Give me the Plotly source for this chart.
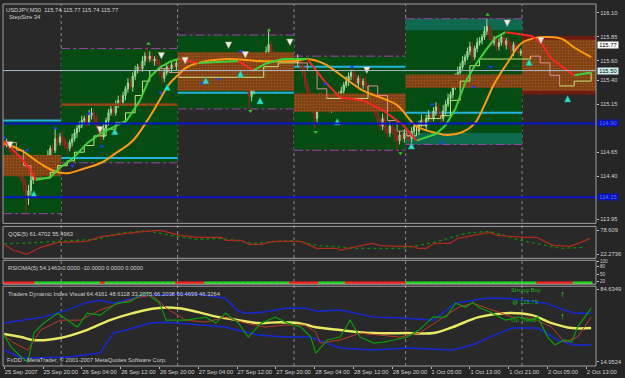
import plotly.graph_objects as go

# ---------------- DATA ----------------
tick_bars = [0, 16, 32, 48, 64, 80, 96, 112, 128, 144, 160, 176, 192, 208, 224, 240]
tick_labels = ["25 Sep 2007", "25 Sep 20:00", "26 Sep 04:00", "26 Sep 12:00", "26 Sep 20:00",
               "27 Sep 04:00", "27 Sep 12:00", "27 Sep 20:00", "28 Sep 04:00", "28 Sep 12:00",
               "28 Sep 20:00", "1 Oct 05:00", "1 Oct 13:00", "1 Oct 21:00", "2 Oct 05:00", "2 Oct 13:00"]
price_ticks = [116.10, 115.85, 115.60, 115.40, 115.15, 114.65, 114.40, 113.95]

first_open = 114.74
closes = [
    114.72, 114.75, 114.69, 114.65, 114.58, 114.51, 114.44, 114.38, 114.31, 114.20, 114.25, 114.36, 114.44, 114.48, 114.44, 114.50,
    114.46, 114.54, 114.62, 114.69, 114.67, 114.79, 114.75, 114.81, 114.77, 114.72, 114.69, 114.75, 114.79, 114.85, 114.90, 114.93,
    114.98, 115.00, 114.96, 115.03, 115.06, 115.00, 114.93, 114.85, 114.81, 114.90, 114.98, 115.06, 115.10, 115.06, 115.15, 115.19,
    115.17, 115.24, 115.31, 115.37, 115.33, 115.44, 115.50, 115.54, 115.52, 115.60, 115.65, 115.62, 115.65, 115.60, 115.62, 115.58,
    115.50, 115.42, 115.48, 115.54, 115.52, 115.56, 115.54, 115.58, 115.55, 115.50, 115.56, 115.52, 115.58, 115.54, 115.50, 115.54,
    115.58, 115.52, 115.48, 115.54, 115.60, 115.56, 115.62, 115.58, 115.54, 115.60, 115.58, 115.62, 115.56, 115.60, 115.54, 115.58,
    115.62, 115.56, 115.50, 115.42, 115.33, 115.23, 115.29, 115.35, 115.42, 115.48, 115.54, 115.62, 115.70, 115.77, 115.69, 115.62,
    115.64, 115.58, 115.62, 115.56, 115.60, 115.62, 115.58, 115.60, 115.58, 115.62, 115.56, 115.48, 115.37, 115.27, 115.19, 115.10,
    115.00, 115.15, 115.23, 115.19, 115.12, 115.17, 115.10, 115.15, 115.21, 115.17, 115.23, 115.29, 115.35, 115.39, 115.44, 115.48,
    115.42, 115.37, 115.42, 115.35, 115.39, 115.33, 115.27, 115.23, 115.15, 115.06, 114.98, 114.92, 115.00, 114.90, 114.85, 114.92,
    114.88, 114.81, 114.77, 114.83, 114.79, 114.85, 114.83, 114.79, 114.87, 114.92, 114.87, 114.94, 114.98, 114.92, 115.00, 115.04,
    115.00, 115.08, 115.12, 115.04, 115.00, 115.08, 115.15, 115.21, 115.25, 115.33, 115.42, 115.48, 115.54, 115.60, 115.64, 115.70,
    115.75, 115.64, 115.73, 115.79, 115.81, 115.85, 115.91, 115.96, 115.87, 115.79, 115.83, 115.75, 115.79, 115.85, 115.77, 115.81,
    115.75, 115.70, 115.77, 115.73, 115.68, 115.70, 115.75, 115.70, 115.77, 115.68, 115.73, 115.64, 115.58, 115.50, 115.54, 115.46,
    115.39, 115.44, 115.37, 115.42, 115.35, 115.39, 115.33, 115.37, 115.31, 115.39, 115.48, 115.54, 115.50, 115.58, 115.62, 115.58,
    115.66, 115.73, 115.77]
up_wick_pips = [
    3, 4, 2, 3, 2, 3, 2, 4, 3, 5, 6, 4, 3, 5, 4, 3,
    4, 3, 5, 3, 4, 11, 5, 4, 6, 3, 4, 3, 5, 4, 3, 4,
    5, 3, 4, 6, 5, 3, 4, 3, 4, 5, 3, 4, 5, 3, 4, 5,
    6, 4, 3, 5, 6, 4, 5, 3, 4, 5, 4, 9, 5, 4, 3, 4,
    3, 5, 4, 3, 4, 3, 5, 4, 3, 4, 5, 3, 4, 3, 4, 5,
    3, 4, 5, 3, 4, 3, 5, 4, 3, 4, 5, 3, 4, 3, 4, 3,
    4, 3, 5, 4, 3, 4, 5, 3, 4, 5, 6, 4, 5, 14, 4, 3,
    4, 3, 5, 4, 3, 4, 5, 3, 4, 5, 3, 4, 6, 5, 4, 3,
    5, 4, 3, 4, 5, 3, 4, 5, 3, 4, 5, 4, 3, 5, 4, 3,
    4, 5, 3, 4, 3, 5, 4, 3, 4, 5, 6, 4, 5, 4, 3, 5,
    4, 3, 5, 4, 3, 4, 5, 3, 4, 3, 5, 4, 6, 3, 4, 5,
    3, 4, 5, 4, 3, 6, 4, 5, 3, 4, 5, 6, 4, 5, 3, 4,
    5, 4, 3, 5, 4, 3, 5, 8, 4, 5, 3, 4, 5, 3, 4, 3,
    4, 5, 3, 4, 5, 3, 4, 3, 5, 4, 3, 4, 5, 3, 4, 3,
    4, 5, 3, 4, 3, 5, 4, 3, 4, 5, 3, 4, 5, 3, 4, 3,
    4, 3, 3]
low_wick_pips = [
    3, 2, 4, 3, 4, 3, 5, 4, 6, 18, 10, 5, 4, 3, 5, 4,
    3, 4, 3, 5, 4, 3, 4, 3, 5, 4, 6, 3, 4, 3, 5, 4,
    3, 4, 5, 3, 4, 5, 3, 4, 6, 3, 4, 5, 3, 4, 3, 4,
    4, 3, 5, 4, 3, 5, 4, 3, 4, 3, 5, 4, 3, 4, 5, 3,
    5, 6, 4, 3, 5, 4, 3, 4, 5, 3, 4, 3, 5, 4, 3, 4,
    5, 3, 4, 3, 5, 4, 3, 4, 5, 3, 4, 3, 5, 4, 3, 4,
    3, 4, 5, 4, 6, 13, 5, 4, 3, 4, 3, 4, 3, 4, 5, 4,
    3, 4, 5, 3, 4, 3, 4, 5, 3, 4, 5, 4, 6, 5, 4, 5,
    10, 4, 3, 5, 4, 3, 5, 4, 3, 4, 5, 3, 4, 3, 5, 4,
    3, 4, 5, 3, 4, 3, 5, 4, 3, 4, 6, 5, 4, 6, 5, 4,
    5, 6, 10, 4, 5, 4, 6, 5, 4, 3, 5, 4, 3, 4, 5, 3,
    4, 3, 5, 4, 6, 3, 4, 3, 5, 4, 3, 4, 5, 3, 4, 3,
    4, 5, 3, 4, 3, 4, 3, 4, 5, 4, 3, 5, 4, 3, 4, 5,
    3, 4, 5, 3, 4, 3, 4, 5, 3, 4, 5, 4, 3, 5, 4, 3,
    4, 3, 5, 4, 3, 4, 5, 4, 4, 3, 4, 3, 5, 4, 3, 4,
    3, 4, 3]

# daily zones
day_edges = [-0.5, 23.5, 71.5, 119.5, 165.5, 213.5, 244]
box_top = [114.98, 115.73, 115.87, 115.65, 116.04, None]
box_bot = [114.01, 114.54, 115.10, 114.67, 114.73, None]
teal_hi = [None, None, None, None, 115.92, None]
teal_lo = [None, None, None, None, 114.85, None]
band_top = [114.62, 115.16, 115.69, 115.26, 115.46, 115.86]
band_bot = [114.40, 115.13, 115.29, 115.07, 115.32, 115.25]
band_border = [False, False, False, False, False, True]
cyan_lvl = [114.98, 114.59, 115.27, 115.54, 115.06, None]
blue_levels = [114.95, 114.18]
blue_labels = ["114.90", "114.15"]
gray_level = 115.50
last_price = 115.77

# moving averages (sampled)
slow_bars = [0, 7, 15, 21, 26, 33, 40, 46, 53, 59, 64, 68, 72, 75, 80, 92, 105, 120, 125, 132, 140, 148, 155, 162,
             170, 178, 183, 189, 194, 198, 202, 208, 213, 219, 224, 230, 235, 242]
slow_vals = [114.74, 114.67, 114.53, 114.45, 114.43, 114.48, 114.54, 114.64, 114.77, 114.98, 115.19, 115.36, 115.46,
             115.53, 115.58, 115.62, 115.60, 115.60, 115.62, 115.57, 115.43, 115.29, 115.22, 115.14, 114.92, 114.85,
             114.83, 114.86, 114.95, 115.14, 115.36, 115.60, 115.78, 115.84, 115.85, 115.83, 115.74, 115.64]
fast_bars = [0, 7, 11, 13, 19, 23, 28.5, 34, 39.5, 45, 50.5, 56, 60, 64, 69, 72, 80, 96.5, 102.7, 107.6, 115, 120,
             125, 132, 138.5, 148, 156.5, 164.6, 170, 178, 182, 186, 190, 194, 198.5, 202.5, 206.6, 217.6, 221.7,
             225.7, 232.3, 235, 242]
fast_vals = [114.77, 114.59, 114.46, 114.36, 114.39, 114.49, 114.59, 114.74, 114.84, 114.91, 114.98, 115.19, 115.43,
             115.53, 115.60, 115.62, 115.58, 115.60, 115.50, 115.57, 115.62, 115.62, 115.62, 115.39, 115.22, 115.19,
             115.08, 114.93, 114.77, 114.84, 114.93, 115.10, 115.37, 115.55, 115.71, 115.84, 115.90, 115.86, 115.78,
             115.62, 115.50, 115.45, 115.48]
step_bars = [0, 5, 8, 11, 15, 19, 22, 26, 29, 33, 37, 42, 46, 50, 54, 57, 60, 64, 68, 72, 105, 107, 113, 121, 125,
             129, 133, 148, 150, 154, 158, 162, 166, 170, 174, 180, 184, 188, 192, 196, 213, 217, 221, 225, 229, 235, 242]
step_vals = [114.75, 114.67, 114.51, 114.38, 114.38, 114.44, 114.51, 114.56, 114.65, 114.72, 114.82, 114.89, 114.96,
             115.06, 115.24, 115.39, 115.50, 115.52, 115.48, 115.43, 115.43, 115.54, 115.58, 115.58, 115.50, 115.31,
             115.21, 115.21, 115.34, 115.24, 114.98, 114.87, 114.82, 114.93, 115.00, 115.03, 115.19, 115.39, 115.55,
             115.62, 115.62, 115.65, 115.58, 115.45, 115.34, 115.39, 115.48]

# signal markers
white_dn_bars = [2.4, 39.5, 64.8, 74.6, 92.5, 99.4, 117.8, 149.5, 207.4, 221.3]
white_dn_vals = [114.69, 114.85, 115.62, 115.57, 115.73, 115.63, 115.76, 115.47, 115.96, 115.78]
cyan_up_bars = [12.2, 45.6, 67.2, 83.1, 97.4, 105.5, 137.3, 167.9, 216.4, 232.3]
cyan_up_vals = [114.25, 114.90, 115.36, 115.43, 115.50, 115.22, 115.00, 114.75, 115.62, 115.24]
frac_up_bars = [0, 9.4, 21.2, 35, 97.4, 132.4, 143.4, 176.4]
frac_up_vals = [114.80, 114.67, 114.90, 115.05, 115.70, 115.36, 115.54, 115.15]
frac_dn_bars = [28.1, 40.3, 64.4, 81.5, 88.4, 180.5, 193.6, 200.5]
frac_dn_vals = [114.51, 114.71, 115.27, 115.37, 115.41, 114.75, 115.33, 115.54]
green_up_bars = [59.5, 109.2, 199.3]
green_up_vals = [115.78, 115.92, 116.08]
green_dn_bars = [101.5, 128.4, 163.4]
green_dn_vals = [115.08, 114.86, 114.64]

# QQE panel
qqe_ticks = [78.609, 22.2736]
qqe_red_bars = [0, 3.7, 9.4, 15, 22.4, 33.8, 40.3, 47.7, 57.9, 64.4, 72.5, 79.9, 89.6, 91.3, 97.8, 101, 106, 110.8,
                122.2, 128.8, 137, 138.5, 141.8, 151.6, 154.8, 161.4, 168.3, 170.7, 174, 177.3, 183.8, 187, 200,
                203.3, 214.7, 219.6, 226.2, 233.5, 241.6]
qqe_red_vals = [45.7, 31.7, 22.3, 38.7, 50.4, 52.8, 64.5, 69.2, 76.3, 78.6, 66.9, 62.2, 62.2, 55.1, 55.1, 45.7, 45.7,
                52.8, 52.8, 36.4, 36.4, 31.7, 36.4, 48.1, 43.4, 41.1, 41.1, 36.4, 36.4, 48.1, 48.1, 59.8, 73.9, 66.9,
                62.2, 62.2, 43.4, 41.1, 59.8]
qqe_grn_bars = [0, 15, 37.9, 47.7, 58.7, 68.5, 79.9, 89.6, 102.7, 119, 128.8, 145, 164.2, 177.3, 190.3, 200, 213,
                229.4, 239.2]
qqe_grn_vals = [47.0, 50.4, 57.5, 71.6, 78.0, 66.9, 57.5, 59.8, 48.1, 55.1, 43.4, 36.4, 36.4, 50.4, 71.6, 76.3, 55.1,
                36.4, 38.7]

# RSIOMA panel
rsioma_ticks = [100, 80, 50, 20]
rsioma_dot_level = 16
run_colors = ["r", "g", "r", "g", "r", "g", "r", "g", "r", "g", "r", "g"]
run_lengths = [13, 27, 2, 29, 12, 35, 12, 11, 25, 54, 15, 8]

# TDI panel
tdi_ticks = [84.6349, 14.9524]
tdi_up_bars = [0, 7, 16, 26, 33, 39.5, 45, 53, 59, 64, 69, 80, 91, 96, 99, 107, 116, 124, 129, 138.5, 152.4, 166,
               177, 186, 193, 198.5, 206.6, 214.8, 223, 231, 235, 240.4, 242]
tdi_up_vals = [52.2, 55.0, 57.9, 64.6, 71.3, 74.1, 71.3, 76.0, 78.9, 78.9, 79.9, 79.9, 76.0, 64.6, 61.7, 62.7, 66.5,
               66.5, 63.5, 64.6, 57.9, 56.9, 55.0, 71.3, 74.1, 76.0, 76.0, 74.1, 71.3, 64.6, 61.7, 61.7, 61.7]
tdi_lo_bars = [0, 7, 12, 26, 39.5, 45, 50.5, 60, 67, 72, 80, 91, 96, 104.7, 115.7, 126, 138.5, 152.4, 166, 185, 193,
               204, 209.5, 220, 228, 235, 242]
tdi_lo_vals = [26.4, 18.8, 18.8, 19.7, 23.5, 42.6, 45.5, 52.2, 53.1, 52.2, 50.3, 48.4, 45.5, 40.7, 38.8, 38.8, 28.3,
               26.4, 28.3, 26.4, 31.2, 42.6, 47.4, 47.4, 36.0, 31.2, 31.2]
tdi_mid_bars = [0, 7, 12, 23, 34, 43.6, 53, 62.7, 72, 80, 88.4, 96.6, 104.7, 114, 121, 125, 128, 138.5, 152.4, 166,
                177, 185, 195.6, 206.6, 217.6, 225.7, 234, 242]
tdi_mid_vals = [41.7, 38.8, 35.9, 37.9, 45.5, 55.0, 61.7, 66.5, 66.5, 62.7, 57.9, 55.0, 52.2, 53.1, 52.2, 50.3, 48.4,
                45.5, 42.6, 42.6, 42.6, 48.4, 57.9, 61.7, 59.8, 52.2, 47.4, 47.4]
tdi_rsi_bars = [0, 2.8, 7, 9.8, 12.2, 16.3, 22, 24.4, 30.2, 34.2, 39.5, 46.4, 51.7, 55.8, 58.7, 64, 66.8, 75, 83.1,
                87.2, 91.3, 96.6, 100.6, 106, 111.7, 117, 122.3, 126.4, 128.4, 133.3, 138.5, 142.6, 146.7, 152.4,
                156.5, 160.5, 166, 171.1, 176.8, 182.1, 186.2, 190.3, 193.2, 195.6, 201.3, 206.6, 211.9, 217.6, 220,
                224.1, 227, 231, 234, 236.4, 240.4, 242]
tdi_rsi_vals = [40.7, 29.3, 19.7, 15.0, 42.6, 52.2, 61.7, 57.9, 48.4, 61.7, 59.8, 71.3, 72.2, 78.9, 80.8, 71.3, 55.0,
                55.0, 57.9, 52.2, 61.7, 52.2, 38.8, 52.2, 57.9, 52.2, 48.4, 38.8, 23.5, 36.0, 38.8, 55.0, 38.8, 33.1,
                34.0, 36.0, 38.8, 45.5, 57.9, 57.9, 71.3, 67.4, 72.2, 67.4, 61.7, 55.0, 57.9, 55.0, 57.9, 38.8, 31.2,
                36.0, 34.0, 48.4, 61.7, 66.5]
tdi_sig_bars = [0, 4, 9.8, 15, 23.2, 31.4, 39.5, 47.7, 55.8, 61.1, 66.8, 75, 83.1, 91.3, 99.4, 107.6, 115.7, 124,
                128.4, 130.4, 138.5, 146.7, 154.8, 163, 171.1, 179.3, 187.4, 193.2, 201.3, 209.5, 217.6, 225.7, 231,
                236.4, 242]
tdi_sig_vals = [40.7, 33.1, 26.4, 45.5, 55.0, 55.0, 64.6, 71.3, 77.0, 78.9, 66.5, 55.0, 53.1, 57.9, 52.2, 48.4, 50.3,
                50.3, 43.6, 33.1, 36.0, 42.6, 40.7, 38.8, 42.6, 55.0, 67.4, 71.3, 64.6, 57.9, 56.9, 48.4, 34.0, 38.8,
                57.9]
tdi_text = ["Strong Buy", "@ 115.75", "Up Trend"]
tdi_text_bars = [209, 209.5, 209]
tdi_text_vals = [83.7, 72.2, 55.0]
tdi_arrow_bars = [230.2, 230.2]
tdi_arrow_vals = [78.9, 57.9]

# ---------------- BUILD ----------------
assert len(closes) == len(up_wick_pips) == len(low_wick_pips)
n = len(closes)
bars = list(range(n))
opens = [first_open] + closes[:-1]
highs = [round(max(o, c) + u / 100, 2) for o, c, u in zip(opens, closes, up_wick_pips)]
lows = [round(min(o, c) - l / 100, 2) for o, c, l in zip(opens, closes, low_wick_pips)]

FONT = "Liberation Sans, Arial, sans-serif"
TXT = "#cfcfcf"

fig = go.Figure()


def split_dir(xs, ys, falling, step=False):
    ox, oy = [], []
    for i in range(len(xs) - 1):
        f = ys[i + 1] < ys[i]
        if f == falling:
            if step:
                ox += [xs[i], xs[i + 1], xs[i + 1], None]
                oy += [ys[i], ys[i], ys[i + 1], None]
            else:
                ox += [xs[i], xs[i + 1], None]
                oy += [ys[i], ys[i + 1], None]
    return ox, oy


# brown bands (patterned)
for i in range(len(day_edges) - 1):
    x0, x1 = day_edges[i], day_edges[i + 1]
    t, b = band_top[i], band_bot[i]
    if band_border[i]:
        fig.add_trace(go.Scatter(x=[x0, x1, x1, x0, x0], y=[b, b, t, t, b], fill="toself", mode="none",
                                 fillcolor="#6e1c0e", hoverinfo="skip"))
        t, b = t - 0.04, b + 0.04
    fig.add_trace(go.Scatter(x=[x0, x1, x1, x0, x0], y=[b, b, t, t, b], fill="toself", mode="none",
                             fillcolor="#7e4014",
                             fillpattern=dict(shape=".", fgcolor="#c0702a", bgcolor="#7e4014", size=3, solidity=0.25),
                             hoverinfo="skip"))

# candles
fig.add_trace(go.Candlestick(x=bars, open=opens, high=highs, low=lows, close=closes,
                             increasing=dict(line=dict(color="#9fdc98", width=1), fillcolor="#6fb86c"),
                             decreasing=dict(line=dict(color="#a42222", width=1), fillcolor="#861414"),
                             whiskerwidth=0, hoverinfo="skip"))

# step line
sx, sy = split_dir(step_bars, step_vals, False, step=True)
fig.add_trace(go.Scatter(x=sx, y=sy, mode="lines", line=dict(color="#c4e67c", width=1), hoverinfo="skip"))
sx, sy = split_dir(step_bars, step_vals, True, step=True)
fig.add_trace(go.Scatter(x=sx, y=sy, mode="lines", line=dict(color="#d89090", width=1), hoverinfo="skip"))

# slow MA
fig.add_trace(go.Scatter(x=slow_bars, y=slow_vals, mode="lines", line=dict(color="#ff9a10", width=2, shape="spline"),
                         hoverinfo="skip"))
# fast MA coloured by direction
fx, fy = split_dir(fast_bars, fast_vals, False)
fig.add_trace(go.Scatter(x=fx, y=fy, mode="lines", line=dict(color="#3cd23c", width=2), hoverinfo="skip"))
fx, fy = split_dir(fast_bars, fast_vals, True)
fig.add_trace(go.Scatter(x=fx, y=fy, mode="lines", line=dict(color="#ff2424", width=2), hoverinfo="skip"))

# markers
fig.add_trace(go.Scatter(x=frac_up_bars, y=frac_up_vals, mode="markers",
                         marker=dict(symbol="triangle-up", size=4, color="#1e3cff"), hoverinfo="skip"))
fig.add_trace(go.Scatter(x=frac_dn_bars, y=frac_dn_vals, mode="markers",
                         marker=dict(symbol="triangle-down", size=4, color="#1e3cff"), hoverinfo="skip"))
fig.add_trace(go.Scatter(x=green_up_bars, y=green_up_vals, mode="markers",
                         marker=dict(symbol="triangle-up", size=4, color="#20c820"), hoverinfo="skip"))
fig.add_trace(go.Scatter(x=green_dn_bars, y=green_dn_vals, mode="markers",
                         marker=dict(symbol="triangle-down", size=4, color="#20c820"), hoverinfo="skip"))
fig.add_trace(go.Scatter(x=white_dn_bars, y=white_dn_vals, mode="markers",
                         marker=dict(symbol="arrow-down", size=6.5, color="#f2ece2",
                                     line=dict(color="#b0a090", width=0.5)), hoverinfo="skip"))
fig.add_trace(go.Scatter(x=cyan_up_bars, y=cyan_up_vals, mode="markers",
                         marker=dict(symbol="arrow-up", size=6.5, color="#28e0c8",
                                     line=dict(color="#10a080", width=0.5)), hoverinfo="skip"))

# QQE
fig.add_trace(go.Scatter(x=qqe_grn_bars, y=qqe_grn_vals, yaxis="y2", mode="lines",
                         line=dict(color="#0b8a0b", width=1.3, dash="dot"), hoverinfo="skip"))
fig.add_trace(go.Scatter(x=qqe_red_bars, y=qqe_red_vals, yaxis="y2", mode="lines",
                         line=dict(color="#b02a1c", width=1.2), hoverinfo="skip"))

# RSIOMA dot strip
dot_cols = []
for c, k in zip(run_colors, run_lengths):
    dot_cols += [("#ff2020" if c == "r" else "#22e022")] * k
fig.add_trace(go.Scatter(x=bars, y=[rsioma_dot_level] * n, yaxis="y3", mode="markers",
                         marker=dict(symbol="square", size=2.6, color=dot_cols, line=dict(width=0)),
                         hoverinfo="skip"))

# TDI
for xs_, ys_, col, w in [(tdi_up_bars, tdi_up_vals, "#1428d8", 1.5), (tdi_lo_bars, tdi_lo_vals, "#1428d8", 1.5)]:
    fig.add_trace(go.Scatter(x=xs_, y=ys_, yaxis="y4", mode="lines", line=dict(color=col, width=w),
                             hoverinfo="skip"))
fig.add_trace(go.Scatter(x=tdi_mid_bars, y=tdi_mid_vals, yaxis="y4", mode="lines",
                         line=dict(color="#e8e864", width=2.5, shape="spline"), hoverinfo="skip"))
fig.add_trace(go.Scatter(x=tdi_sig_bars, y=tdi_sig_vals, yaxis="y4", mode="lines",
                         line=dict(color="#b83a2a", width=1), hoverinfo="skip"))
fig.add_trace(go.Scatter(x=tdi_rsi_bars, y=tdi_rsi_vals, yaxis="y4", mode="lines",
                         line=dict(color="#0a9a0a", width=1.2), hoverinfo="skip"))
fig.add_trace(go.Scatter(x=tdi_arrow_bars, y=tdi_arrow_vals, yaxis="y4", mode="text", text=["↑", "↑"],
                         textfont=dict(color="#20e020", size=9, family=FONT), hoverinfo="skip"))
fig.add_trace(go.Scatter(x=tdi_text_bars, y=tdi_text_vals, yaxis="y4", mode="text", text=tdi_text,
                         textposition="middle right", textfont=dict(color="#18b818", size=6, family=FONT),
                         hoverinfo="skip"))

# ---------------- SHAPES ----------------
shapes = []
for i in range(len(day_edges) - 1):
    x0, x1 = day_edges[i], day_edges[i + 1]
    if box_top[i] is not None:
        shapes.append(dict(type="rect", xref="x", yref="y", x0=x0, x1=x1, y0=box_bot[i], y1=box_top[i],
                           fillcolor="#044c12", line=dict(width=0), layer="below"))
        if teal_hi[i] is not None:
            shapes.append(dict(type="rect", xref="x", yref="y", x0=x0, x1=x1, y0=teal_hi[i], y1=box_top[i],
                               fillcolor="#0e6a4e", line=dict(width=0), layer="below"))
        if teal_lo[i] is not None:
            shapes.append(dict(type="rect", xref="x", yref="y", x0=x0, x1=x1, y0=box_bot[i], y1=teal_lo[i],
                               fillcolor="#0e6a4e", line=dict(width=0), layer="below"))
        for lv in (box_top[i], box_bot[i]):
            shapes.append(dict(type="line", xref="x", yref="y", x0=x0, x1=x1, y0=lv, y1=lv,
                               line=dict(color="#a040a8", width=1, dash="dashdot"), layer="below"))
    if cyan_lvl[i] is not None:
        shapes.append(dict(type="line", xref="x", yref="y", x0=x0, x1=x1, y0=cyan_lvl[i], y1=cyan_lvl[i],
                           line=dict(color="#22b4dc", width=2), layer="below"))

for e in day_edges[1:-1]:
    shapes.append(dict(type="line", xref="x", yref="paper", x0=e, x1=e, y0=0, y1=1,
                       line=dict(color="#8c8c8c", width=1, dash="dot"), layer="below"))

for lv in blue_levels:
    shapes.append(dict(type="line", xref="paper", yref="y", x0=0, x1=1, y0=lv, y1=lv,
                       line=dict(color="#0814c8", width=2), layer="above"))
shapes.append(dict(type="line", xref="paper", yref="y", x0=0, x1=1, y0=gray_level, y1=gray_level,
                   line=dict(color="#a8b8c8", width=1), layer="above"))

domains = {"y": [0.394, 1.0], "y2": [0.2975, 0.3857], "y3": [0.2259, 0.2920], "y4": [0.0, 0.2204]}
for d in domains.values():
    shapes.append(dict(type="rect", xref="paper", yref="paper", x0=0, x1=1, y0=d[0], y1=d[1],
                       line=dict(color="#a0a0a0", width=1), fillcolor="rgba(0,0,0,0)", layer="above"))

# ---------------- ANNOTATIONS ----------------
ann = []


def label(text, ydom, yshift, xshift=1, size=5.8, color=TXT):
    ann.append(dict(text=text, xref="paper", yref="paper", x=0, y=ydom, xanchor="left", yanchor="top",
                    xshift=xshift, yshift=yshift, showarrow=False, font=dict(size=size, color=color, family=FONT)))


label("USDJPY,M30  115.74 115.77 115.74 115.77", 1.0, -1)
label("StepSize 34", 1.0, -8, xshift=4)
label("QQE(5) 61.4702 55.4963", domains["y2"][1], -3, xshift=3)
label("RSIOMA(5) 54.1463 0.0000 -10.0000 0.0000 0.0000", domains["y3"][1], -3, xshift=3)
label("Traders Dynamic Index Visual 64.4161 48.6118 33.2075 66.2038 60.4699 46.3264", domains["y4"][1], -3, xshift=3)
ann.append(dict(text="FxDD - MetaTrader, © 2001-2007 MetaQuotes Software Corp.", xref="paper", yref="paper",
                x=0, y=0, xanchor="left", yanchor="bottom", xshift=2, yshift=1, showarrow=False,
                font=dict(size=5.8, color=TXT, family=FONT)))

for val, txt, bg, fg in [(last_price, "115.77", "#ffffff", "#000000"),
                         (gray_level, "115.50", "#cfeef0", "#000000"),
                         (blue_levels[0], blue_labels[0], "#0814b8", "#5a6cff"),
                         (blue_levels[1], blue_labels[1], "#0814b8", "#5a6cff")]:
    ann.append(dict(text=txt, xref="paper", yref="y", x=1, y=val, xanchor="left", yanchor="middle", xshift=1,
                    showarrow=False, bgcolor=bg, borderpad=0, width=20,
                    font=dict(size=5.8, color=fg, family=FONT)))

axis_common = dict(showgrid=False, zeroline=False, showline=False, side="right", anchor="x",
                   ticks="outside", ticklen=2, tickcolor="#c0c0c0",
                   tickfont=dict(size=5.8, color=TXT, family=FONT))

fig.update_layout(
    width=625, height=378, margin=dict(l=3, r=22, t=3, b=12),
    paper_bgcolor="#262626", plot_bgcolor="#292929", showlegend=False,
    font=dict(family=FONT, size=6, color=TXT),
    xaxis=dict(domain=[0, 1], anchor="y4", range=[-0.5, 244], tickvals=tick_bars, ticktext=tick_labels,
               tickangle=0, ticks="outside", ticklen=2, tickcolor="#c0c0c0", showgrid=False, zeroline=False,
               showline=False, rangeslider=dict(visible=False), ticklabelposition="outside right",
               tickfont=dict(size=5.8, color=TXT, family=FONT)),
    yaxis=dict(domain=domains["y"], range=[113.909, 116.193], tickvals=price_ticks,
               ticktext=[f"{v:.2f}" for v in price_ticks], **axis_common),
    yaxis2=dict(domain=domains["y2"], range=[12.9, 88.0], tickvals=qqe_ticks,
                ticktext=["78.609", "22.2736"], **axis_common),
    yaxis3=dict(domain=domains["y3"], range=[10, 106], tickvals=rsioma_ticks,
                ticktext=[str(v) for v in rsioma_ticks],
                **{**axis_common, "tickfont": dict(size=4.6, color=TXT, family=FONT)}),
    yaxis4=dict(domain=domains["y4"], range=[11.1, 87.5], tickvals=tdi_ticks,
                ticktext=["84.6349", "14.9524"], **axis_common),
    shapes=shapes, annotations=ann,
)

fig.write_html("out.html")
